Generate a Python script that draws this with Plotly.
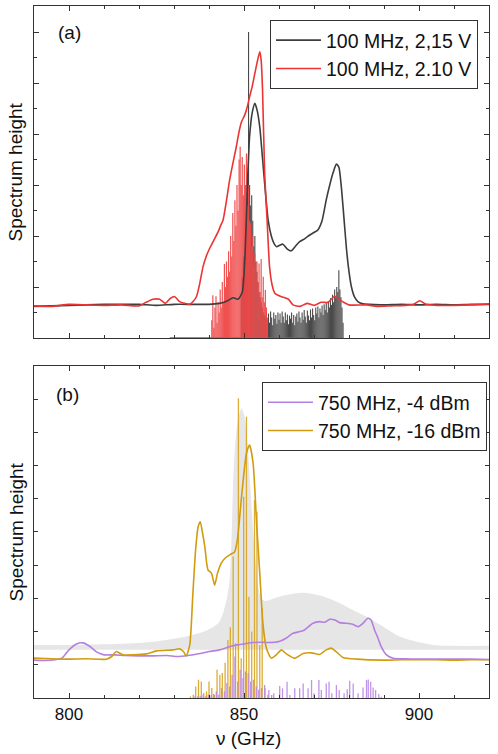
import plotly.graph_objects as go

# ---------------- Panel (a) data ----------------
a_black_freq = [790, 795, 800, 805, 810, 815, 820, 825, 830, 835, 840, 843, 845, 846.9, 848.3, 849.5, 850.2, 850.7, 851.1, 851.6, 852.3, 853.1, 853.8, 854.5, 855.2, 855.9, 856.9, 857.8, 858.6, 859.3, 860.2, 861.1, 862.3, 863.5, 864.7, 865.9, 867.4, 868.8, 870.0, 871.1, 872.3, 873.5, 874.5, 875.4, 876.4, 877.1, 877.8, 878.5, 879.3, 880.0, 880.7, 881.6, 882.6, 884, 886, 890, 895, 900, 905, 910, 915, 920]
a_black_val = [0.62, 0.63, 0.64, 0.65, 0.66, 0.66, 0.66, 0.64, 0.66, 0.66, 0.66, 0.68, 0.72, 0.79, 0.76, 0.9, 1.5, 2.4, 3.23, 3.95, 4.4, 4.6, 4.45, 4.14, 3.6, 3.03, 2.31, 2.0, 1.85, 1.79, 1.82, 1.84, 1.75, 1.71, 1.8, 1.89, 1.95, 2.02, 2.07, 2.12, 2.3, 2.71, 3.0, 3.23, 3.41, 3.35, 2.97, 2.4, 1.73, 1.3, 1.0, 0.8, 0.71, 0.67, 0.66, 0.65, 0.66, 0.65, 0.66, 0.65, 0.66, 0.66]

a_red_freq = [790, 795, 800, 805, 810, 815, 820, 822, 824, 825.9, 827.5, 829, 830.2, 831.5, 833, 834.5, 835.5, 836.4, 837.3, 838.3, 839.2, 840.2, 841.4, 842.6, 843.3, 844.0, 845.0, 845.9, 846.9, 847.8, 848.6, 849.3, 850.2, 851.0, 851.6, 852.4, 853.1, 853.8, 854.5, 854.9, 855.3, 855.9, 856.6, 857.3, 858.0, 858.8, 860.7, 862.7, 864, 866, 868, 870, 872, 874, 875.9, 878, 880, 885, 888, 892, 896, 898.5, 900.2, 902, 905, 910, 915, 920]
a_red_val = [0.63, 0.62, 0.66, 0.65, 0.64, 0.65, 0.63, 0.7, 0.76, 0.76, 0.68, 0.78, 0.81, 0.72, 0.68, 0.66, 0.72, 0.81, 1.05, 1.4, 1.6, 1.76, 1.92, 2.08, 2.2, 2.31, 2.7, 3.1, 3.45, 3.75, 4.05, 4.24, 4.37, 4.55, 4.73, 4.95, 5.19, 5.42, 5.61, 5.45, 4.86, 3.23, 2.31, 1.4, 1.05, 0.88, 0.81, 0.76, 0.65, 0.62, 0.68, 0.64, 0.7, 0.7, 0.82, 0.72, 0.65, 0.65, 0.62, 0.63, 0.64, 0.66, 0.73, 0.66, 0.64, 0.64, 0.65, 0.67]

a_red_stick_freq = [840.8, 841.1, 841.4, 841.7, 842.0, 842.3, 842.6, 842.9, 843.2, 843.5, 843.8, 844.1, 844.4, 844.7, 845.0, 845.3, 845.6, 845.9, 846.2, 846.5, 846.8, 847.1, 847.4, 847.7, 848.0, 848.3, 848.6, 848.9, 849.2, 849.5, 849.8, 850.1, 850.4, 850.7, 851.0, 851.3, 851.6, 851.9, 852.2, 852.5, 852.8, 853.1, 853.4, 853.7, 854.0, 854.3, 854.6, 854.9, 855.2, 855.5, 855.8, 856.1, 856.4, 856.7]
a_red_stick_val = [0.35, 0.84, 0.2, 0.6, 0.82, 0.3, 0.7, 0.5, 0.95, 0.6, 1.1, 0.7, 1.45, 1.0, 1.5, 1.2, 1.7, 1.3, 2.0, 1.6, 2.45, 1.9, 2.7, 2.2, 3.0, 2.5, 3.5, 3.75, 3.0, 3.55, 2.8, 3.4, 3.0, 3.62, 2.6, 3.0, 2.3, 2.25, 1.8, 2.0, 1.4, 1.66, 1.2, 1.5, 1.1, 1.46, 0.9, 1.55, 0.8, 1.2, 0.7, 0.94, 0.6, 0.4]
a_red_base = [828.8, 868.7]

a_black_stick_freq = [849.2, 849.5, 849.8, 850.1, 850.4, 850.7, 851.0, 851.3, 851.6, 851.9, 852.2, 852.5, 852.8, 853.1, 853.4, 853.7, 854.0, 854.3, 854.6, 854.9, 855.2, 855.5, 855.8, 856.1,
                      856.4, 856.7, 857.0, 857.3, 857.6, 857.9, 858.2, 858.5, 858.8, 859.1, 859.4, 859.7, 860.0, 860.3, 860.6, 860.9, 861.2, 861.5, 861.8, 862.1, 862.4, 862.7, 863.0, 863.3, 863.6, 863.9,
                      864.2, 864.5, 864.8, 865.1, 865.4, 865.7, 866.0, 866.3, 866.6, 866.9, 867.2, 867.5, 867.8, 868.1, 868.4, 868.7, 869.0, 869.3, 869.6, 869.9, 870.2, 870.5, 870.8, 871.1, 871.4, 871.7,
                      872.0, 872.3, 872.6, 872.9, 873.2, 873.5, 873.8, 874.1, 874.4, 874.7, 875.0, 875.3, 875.6, 875.9, 876.2, 876.5, 876.8, 877.1, 877.4, 877.7, 878.0, 878.3]
a_black_stick_val = [0.8, 1.2, 1.6, 1.4, 2.0, 2.4, 3.2, 6.0, 3.0, 2.6, 2.8, 2.3, 1.8, 2.0, 1.5, 1.3, 1.1, 0.9, 0.8, 0.7, 0.6, 0.5, 0.45, 0.4,
                     0.5, 0.35, 0.48, 0.3, 0.52, 0.4, 0.25, 0.5, 0.38, 0.45, 0.28, 0.5, 0.36, 0.48, 0.3, 0.52, 0.42, 0.3, 0.5, 0.35, 0.46, 0.27, 0.44, 0.38, 0.5, 0.3,
                     0.45, 0.25, 0.42, 0.48, 0.32, 0.52, 0.4, 0.3, 0.5, 0.36, 0.55, 0.42, 0.3, 0.54, 0.44, 0.35, 0.56, 0.4, 0.58, 0.45, 0.35, 0.6, 0.48, 0.62, 0.4, 0.58,
                     0.5, 0.64, 0.45, 0.66, 0.55, 0.7, 0.5, 0.72, 0.6, 0.78, 0.65, 0.85, 0.7, 0.95, 0.8, 1.0, 0.9, 1.33, 0.95, 0.8, 0.6, 0.3]

# ---------------- Panel (b) data ----------------
b_gray_freq = [790, 800, 810, 820, 826, 832, 836, 839, 841, 843, 844, 845, 845.9, 846.5, 846.9, 847.6, 848.3, 849.3, 850.0, 850.6, 851.1, 851.8, 852.6, 853.3, 854.0, 854.6, 855.4, 856.3, 857.3, 858.5, 860.2, 862, 864, 866.4, 869, 872, 875.4, 878, 881, 885, 889, 894.5, 899, 904, 910, 920]
b_gray_top = [1.6, 1.6, 1.62, 1.66, 1.72, 1.82, 1.92, 2.02, 2.12, 2.3, 2.55, 2.95, 3.55, 5.0, 6.5, 7.8, 8.4, 8.73, 8.55, 8.1, 7.57, 6.4, 5.06, 4.1, 3.35, 3.1, 2.95, 2.92, 2.95, 3.0, 3.05, 3.1, 3.14, 3.17, 3.15, 3.08, 2.95, 2.82, 2.65, 2.45, 2.2, 1.85, 1.7, 1.6, 1.57, 1.57]
b_gray_base = 1.45

b_purple_freq = [790, 793, 796, 798, 800, 802, 804, 806, 808, 810, 813, 816, 820, 824, 828, 831, 834, 837, 840, 843, 846, 848, 850, 852.5, 855, 857, 860, 862, 864, 866, 867.3, 869.7, 871.6, 873, 874.5, 876, 877.3, 879.2, 881, 882.6, 884, 885.4, 886.3, 887.3, 888.3, 889.2, 890.7, 892.6, 896, 900, 905, 910, 915, 920]
b_purple_val = [1.14, 1.13, 1.15, 1.2, 1.45, 1.62, 1.66, 1.55, 1.38, 1.3, 1.3, 1.28, 1.27, 1.27, 1.28, 1.25, 1.28, 1.33, 1.4, 1.45, 1.55, 1.6, 1.63, 1.67, 1.68, 1.67, 1.7, 1.8, 1.95, 2.0, 2.05, 2.25, 2.3, 2.28, 2.37, 2.35, 2.27, 2.25, 2.22, 2.15, 2.25, 2.4, 2.35, 2.05, 1.8, 1.55, 1.3, 1.2, 1.18, 1.17, 1.17, 1.17, 1.17, 1.16]

b_gold_freq = [790, 795, 799.3, 805, 810.7, 812.2, 813.5, 815.4, 818.3, 822.1, 825, 829.7, 831.6, 832.7, 833.5, 834.5, 835.4, 836.2, 836.9, 837.5, 838.1, 838.8, 839.7, 840.7, 841.6, 842.4, 843.5, 844.5, 845.9, 847.3, 848.1, 849.3, 850.7, 851.6, 852.6, 853.6, 854.5, 855.4, 856.4, 857.8, 859.2, 860.7, 862.1, 864.5, 866.9, 869.3, 871.6, 873.5, 875.0, 876.4, 878.3, 882.1, 889.7, 895, 900, 905, 910, 915, 920]
b_gold_val = [1.2, 1.18, 1.17, 1.18, 1.17, 1.25, 1.4, 1.3, 1.3, 1.33, 1.42, 1.45, 1.48, 1.4, 1.27, 1.6, 3.15, 4.5, 5.16, 5.31, 5.0, 4.56, 3.86, 3.76, 3.4, 3.75, 4.06, 4.2, 4.31, 4.4, 4.76, 6.06, 7.37, 7.62, 7.07, 5.26, 3.76, 2.25, 1.5, 1.2, 1.3, 1.45, 1.33, 1.2, 1.34, 1.36, 1.31, 1.45, 1.5, 1.39, 1.22, 1.17, 1.14, 1.15, 1.15, 1.15, 1.14, 1.15, 1.15]

b_gold_stick_freq = [834.7, 835.5, 836.2, 837.0, 837.8, 838.5, 839.3, 840.0, 840.8, 841.6, 842.3, 843.1, 843.8, 844.6, 845.4, 846.1, 846.9, 847.6, 848.4, 849.2, 849.9, 850.7, 851.4, 852.2, 853.0, 853.7, 854.5, 855.2, 856.0, 856.8]
b_gold_stick_val = [0.05, 0.1, 0.35, 0.55, 0.5, 0.15, 0.2, 0.5, 0.3, 0.1, 0.85, 0.7, 0.75, 1.06, 1.75, 2.13, 4.26, 1.65, 9.03, 1.2, 6.06, 8.47, 3.05, 2.0, 5.96, 5.61, 1.6, 2.7, 0.3, 0.1]

b_purple_stick_freq = [836.0, 836.8, 837.5, 838.3, 839.0, 839.8, 840.6, 841.3, 842.1, 842.8, 843.6, 844.4, 845.1, 845.9, 846.6, 847.4, 848.2, 848.9, 849.7, 850.4, 851.2, 851.9, 852.7, 853.5, 854.2, 855.0,
                       855.9, 857.1, 857.9, 858.5, 860.2, 861.0, 862.3, 863.1, 864.5, 865.9, 866.9, 868.3, 869.3, 870.0, 871.4, 872.1, 873.5, 874.3, 875.1, 876.4, 877.2, 878.6, 879.5, 880.2, 881.2, 882.6, 884.0, 885.0, 885.5, 886.2, 886.9, 887.6, 888.5, 889.2]
b_purple_stick_val = [0.05, 0.05, 0.05, 0.1, 0.05, 0.1, 0.08, 0.12, 0.2, 0.1, 0.3, 0.2, 0.45, 0.35, 0.7, 1.25, 0.5, 0.85, 0.6, 0.8, 0.75, 0.5, 0.55, 0.35, 0.25, 0.3,
                      0.39, 0.24, 0.09, 0.14, 0.36, 0.29, 0.49, 0.09, 0.29, 0.29, 0.44, 0.29, 0.54, 0.14, 0.54, 0.24, 0.44, 0.49, 0.14, 0.39, 0.24, 0.14, 0.26, 0.52, 0.44, 0.14, 0.32, 0.54, 0.56, 0.49, 0.32, 0.24, 0.12, 0.04]

x_ticks = [800, 850, 900]
x_tick_labels = ["800", "850", "900"]

legend_a = ["100 MHz, 2,15 V", "100 MHz, 2.10 V"]
legend_b = ["750 MHz, -4 dBm", "750 MHz, -16 dBm"]

# ---------------- helpers ----------------
def sticks(freqs, heights):
    xs, ys = [], []
    for f, h in zip(freqs, heights):
        xs += [f, f, None]
        ys += [0, h, None]
    return xs, ys

BLACK = "#3d3d3d"
RED = "#ec3434"
PURPLE = "#b57fdf"
GOLD = "#d19c10"
FONT = "Liberation Sans, Arial, sans-serif"
SMOOTH = 0.6

fig = go.Figure()

# panel (a)
xs, ys = sticks(a_black_stick_freq, a_black_stick_val)
fig.add_trace(go.Scatter(x=xs, y=ys, mode="lines", line=dict(color="#4a4a4a", width=1.1),
                         showlegend=False, hoverinfo="skip", xaxis="x", yaxis="y"))
fig.add_trace(go.Scatter(x=a_red_base, y=[0, 0], mode="lines", line=dict(color=RED, width=1.5),
                         showlegend=False, hoverinfo="skip", xaxis="x", yaxis="y"))
xs, ys = sticks(a_red_stick_freq, a_red_stick_val)
fig.add_trace(go.Scatter(x=xs, y=ys, mode="lines", line=dict(color="#f04848", width=1.2),
                         opacity=0.95, showlegend=False, hoverinfo="skip", xaxis="x", yaxis="y"))
fig.add_trace(go.Scatter(x=a_black_freq, y=a_black_val, mode="lines",
                         line=dict(color=BLACK, width=1.6, shape="spline", smoothing=SMOOTH),
                         name=legend_a[0], legend="legend", xaxis="x", yaxis="y"))
fig.add_trace(go.Scatter(x=a_red_freq, y=a_red_val, mode="lines",
                         line=dict(color=RED, width=1.6, shape="spline", smoothing=SMOOTH),
                         name=legend_a[1], legend="legend", xaxis="x", yaxis="y"))

# panel (b)
fig.add_trace(go.Scatter(x=[b_gray_freq[0], b_gray_freq[-1]], y=[b_gray_base, b_gray_base], mode="lines",
                         line=dict(width=0, color="#e6e6e6"), showlegend=False, hoverinfo="skip",
                         xaxis="x2", yaxis="y2"))
fig.add_trace(go.Scatter(x=b_gray_freq, y=b_gray_top, mode="lines", fill="tonexty", fillcolor="#e6e6e6",
                         line=dict(width=0, color="#e6e6e6", shape="spline", smoothing=SMOOTH),
                         showlegend=False, hoverinfo="skip", xaxis="x2", yaxis="y2"))
xs, ys = sticks(b_gold_stick_freq, b_gold_stick_val)
fig.add_trace(go.Scatter(x=xs, y=ys, mode="lines", line=dict(color="#d9a520", width=1.3),
                         opacity=0.9, showlegend=False, hoverinfo="skip", xaxis="x2", yaxis="y2"))
xs, ys = sticks(b_purple_stick_freq, b_purple_stick_val)
fig.add_trace(go.Scatter(x=xs, y=ys, mode="lines", line=dict(color="#bb88e6", width=1.3),
                         opacity=0.9, showlegend=False, hoverinfo="skip", xaxis="x2", yaxis="y2"))
fig.add_trace(go.Scatter(x=b_purple_freq, y=b_purple_val, mode="lines",
                         line=dict(color=PURPLE, width=1.6, shape="spline", smoothing=SMOOTH),
                         name=legend_b[0], legend="legend2", xaxis="x2", yaxis="y2"))
fig.add_trace(go.Scatter(x=b_gold_freq, y=b_gold_val, mode="lines",
                         line=dict(color=GOLD, width=1.6, shape="spline", smoothing=SMOOTH),
                         name=legend_b[1], legend="legend2", xaxis="x2", yaxis="y2"))

axis_common = dict(showgrid=False, zeroline=False, showline=True, linecolor="#333333", linewidth=1.2,
                   mirror="ticks", ticks="inside", tickcolor="#333333", tickwidth=1)

fig.update_layout(
    width=498, height=754,
    margin=dict(l=34, r=9, t=6, b=56),
    plot_bgcolor="white", paper_bgcolor="white",
    font=dict(family=FONT, size=17, color="#111111"),
    xaxis=dict(axis_common, range=[790, 920], domain=[0, 1], anchor="y",
               tickvals=x_ticks, showticklabels=False, ticklen=5,
               minor=dict(dtick=10, tick0=790, ticklen=3, ticks="inside", tickcolor="#333333")),
    yaxis=dict(axis_common, range=[0, 6.51], domain=[0.5202, 1], anchor="x",
               dtick=1, tick0=0, showticklabels=False, ticklen=5,
               minor=dict(dtick=0.5, ticklen=3, ticks="inside", tickcolor="#333333")),
    xaxis2=dict(axis_common, range=[790, 920], domain=[0, 1], anchor="y2",
                tickvals=x_ticks, ticktext=x_tick_labels, ticklen=5,
                tickfont=dict(size=17),
                minor=dict(dtick=10, tick0=790, ticklen=3, ticks="inside", tickcolor="#333333")),
    yaxis2=dict(axis_common, range=[0, 10], domain=[0, 0.4798], anchor="x2",
                dtick=1, tick0=0, showticklabels=False, ticklen=4),
    legend=dict(x=0.9758, y=0.9798, xanchor="right", yanchor="top", bgcolor="white",
                bordercolor="#333333", borderwidth=1, font=dict(size=19.5, family=FONT),
                itemwidth=45, tracegroupgap=0, traceorder="normal"),
    legend2=dict(x=0.9956, y=0.4566, xanchor="right", yanchor="top", bgcolor="white",
                 bordercolor="#333333", borderwidth=1, font=dict(size=19.5, family=FONT),
                 itemwidth=45, tracegroupgap=0, traceorder="normal"),
    annotations=[
        dict(text="(a)", xref="paper", yref="paper", x=0.078, y=(698 - 32) / 692, showarrow=False,
             font=dict(size=19), xanchor="center", yanchor="middle"),
        dict(text="(b)", xref="paper", yref="paper", x=0.074, y=(698 - 395) / 692, showarrow=False,
             font=dict(size=19), xanchor="center", yanchor="middle"),
        dict(text="Spectrum height", xref="paper", yref="paper", x=(15.5 - 34) / 455, y=(698 - 172) / 692,
             textangle=-90, showarrow=False, font=dict(size=19), xanchor="center", yanchor="middle"),
        dict(text="Spectrum height", xref="paper", yref="paper", x=(15.5 - 34) / 455, y=(698 - 532) / 692,
             textangle=-90, showarrow=False, font=dict(size=19), xanchor="center", yanchor="middle"),
        dict(text="ν (GHz)", xref="paper", yref="paper", x=(248 - 34) / 455, y=(698 - 738) / 692,
             showarrow=False, font=dict(size=19), xanchor="center", yanchor="middle"),
    ],
)

fig.write_html("out.html", config={"displayModeBar": False},
               post_script="document.body.style.margin='0px';document.body.style.overflow='hidden';")
